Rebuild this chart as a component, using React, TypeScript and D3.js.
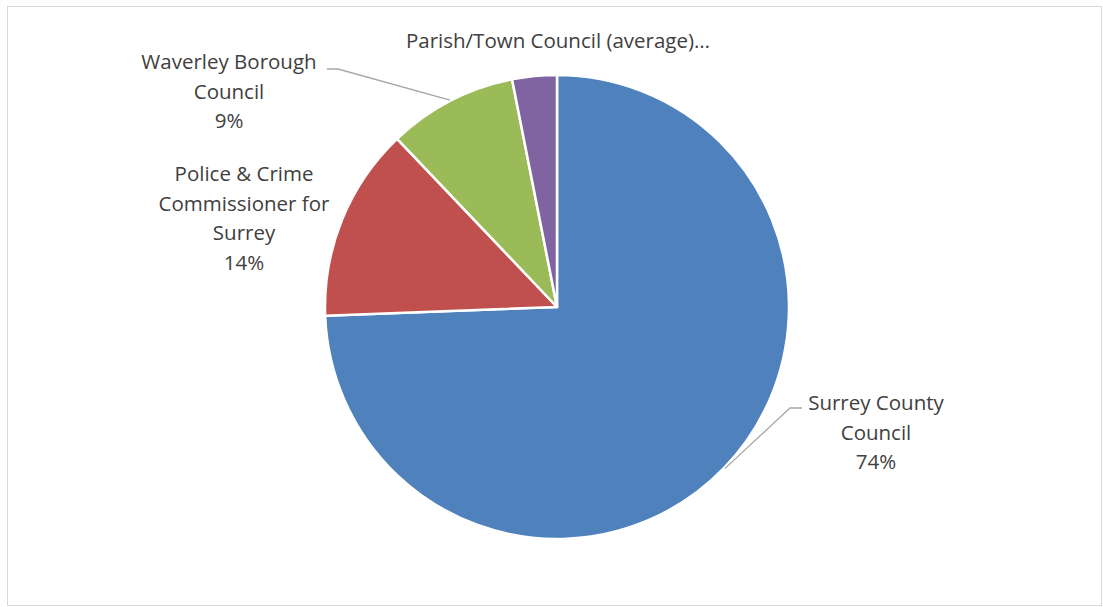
import * as React from "react"
import * as d3 from "d3"

const categories = [
  "Surrey County Council",
  "Police & Crime Commissioner for Surrey",
  "Waverley Borough Council",
  "Parish/Town Council (average)",
]
const shares = [74.4, 13.5, 9.0, 3.1]
const percentLabels = ["74%", "14%", "9%", "3%"]
const colors = ["#4f81bd", "#c0504d", "#9bbb59", "#8064a2"]

// label text lines as Excel wrapped them, and where they sit
const labelLines = [
  ["Surrey County", "Council", percentLabels[0]],
  ["Police & Crime", "Commissioner for", "Surrey", percentLabels[1]],
  ["Waverley Borough", "Council", percentLabels[2]],
  [categories[3] + "…"],
]
const labelPos = [
  { x: 876, y: 410 },
  { x: 244, y: 181 },
  { x: 229, y: 69 },
  { x: 558, y: 48 },
]
// leader line start (text side); the end goes to the slice edge
const leaders: ({ x: number; y: number; elbow: number } | null)[] = [
  { x: 802, y: 408, elbow: 790 },
  null,
  { x: 327, y: 69, elbow: 338 },
  null,
]

const W = 1103
const H = 607
const cx = 557
const cy = 307
const radius = 232
const lineH = 29.5

export default function App() {
  const pie = d3
    .pie<number>()
    .sort(null)
    .value((d) => d)
  const arcs = pie(shares)
  const arc = d3.arc<d3.PieArcDatum<number>>().innerRadius(0).outerRadius(radius)

  return (
    <svg
      width={W}
      height={H}
      style={{ position: "absolute", left: 0, top: 0, background: "#fff" }}
      fontFamily="'Open Sans', sans-serif"
    >
      <rect x={7.5} y={6.5} width={W - 9} height={H - 8} fill="#fff" stroke="#d9d9d9" />
      <g transform={`translate(${cx},${cy})`}>
        {arcs.map((a, i) => (
          <path
            key={i}
            d={arc(a) as string}
            fill={colors[i]}
            stroke="#fff"
            strokeWidth={2.5}
            strokeLinejoin="round"
          />
        ))}
      </g>
      {leaders.map((l, i) => {
        if (!l) return null
        const a = arcs[i]
        const mid = (a.startAngle + a.endAngle) / 2
        const ex = cx + Math.sin(mid) * (radius + 1)
        const ey = cy - Math.cos(mid) * (radius + 1)
        return (
          <polyline
            key={i}
            points={`${l.x},${l.y} ${l.elbow},${l.y} ${ex},${ey}`}
            fill="none"
            stroke="#a6a6a6"
            strokeWidth={1.3}
          />
        )
      })}
      {labelLines.map((lines, i) => (
        <text
          key={i}
          x={labelPos[i].x}
          y={labelPos[i].y}
          textAnchor="middle"
          fontSize={20.5}
          fill="#404040"
        >
          {lines.map((t, j) => (
            <tspan key={j} x={labelPos[i].x} y={labelPos[i].y + j * lineH}>
              {t}
            </tspan>
          ))}
        </text>
      ))}
    </svg>
  )
}
